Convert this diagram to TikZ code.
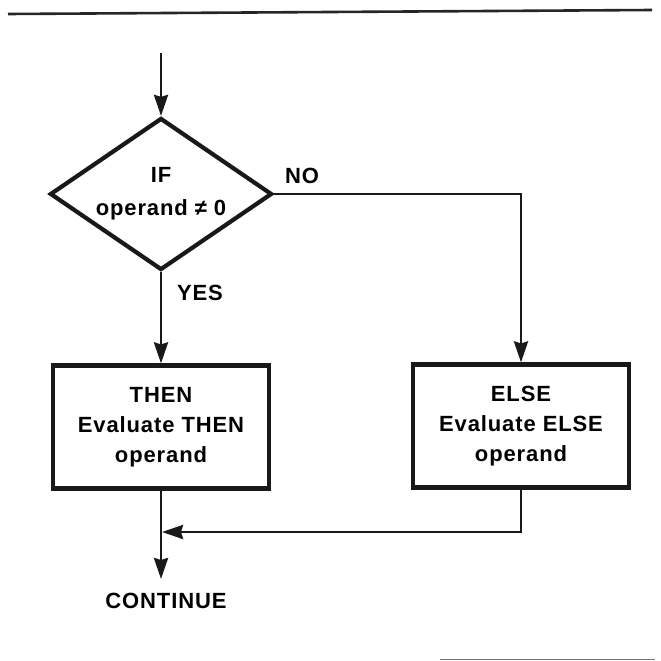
\documentclass[tikz,border=0pt]{standalone}
\usepackage{fontspec}
\setmainfont{Liberation Sans}[LetterSpace=4]
\usetikzlibrary{arrows.meta,shapes.geometric}
\tikzset{
  conn/.style={line width=2.8pt, draw=black!90},
  arr/.style={conn, -{Stealth[length=21pt,width=14pt,inset=2pt]}},
  boxnode/.style={draw=black!90, line width=4.2pt, rectangle, minimum width=216pt, minimum height=123pt, inner sep=0pt, align=center, font=\fontsize{22}{30}\selectfont\bfseries},
  decnode/.style={draw=black!90, line width=4.2pt, diamond, shape aspect=1.46, minimum width=222pt, minimum height=152pt, inner sep=0pt, align=center, font=\fontsize{22}{33}\selectfont\bfseries},
  lbl/.style={font=\fontsize{22}{26}\selectfont\bfseries, inner sep=0pt}
}
\begin{document}
\begin{tikzpicture}[x=1pt,y=-1pt]
\useasboundingbox (0,0) rectangle (661,661);
% rule lines
\draw[line width=2.6pt, black!85] (8,14) -- (652,10);
\draw[line width=1pt, black!55] (440,659) -- (655,659);
% nodes
\coordinate (start) at (161,53);
\node[decnode] (dec) at (161,194) {IF\\operand ≠ 0};
\node[boxnode] (then) at (161,427) {THEN\\Evaluate THEN\\operand};
\node[boxnode] (else) at (521,426) {ELSE\\Evaluate ELSE\\operand};
\coordinate (join) at (162,532);
\coordinate (stop) at (161,579);
\node[lbl] (cont) at (166,601) {CONTINUE};
\node[lbl] (yes) at (200,293) {YES};
\node[lbl] (no) at (302,176) {NO};
% connectors
\draw[arr] (start) -- (dec.north);
\draw[arr] (dec.south) -- (then.north);
\draw[arr] (dec.east) -| (else.north);
\draw[arr] (else.south) |- (join);
\draw[arr] (then.south) -- (stop);
\end{tikzpicture}
\end{document}
